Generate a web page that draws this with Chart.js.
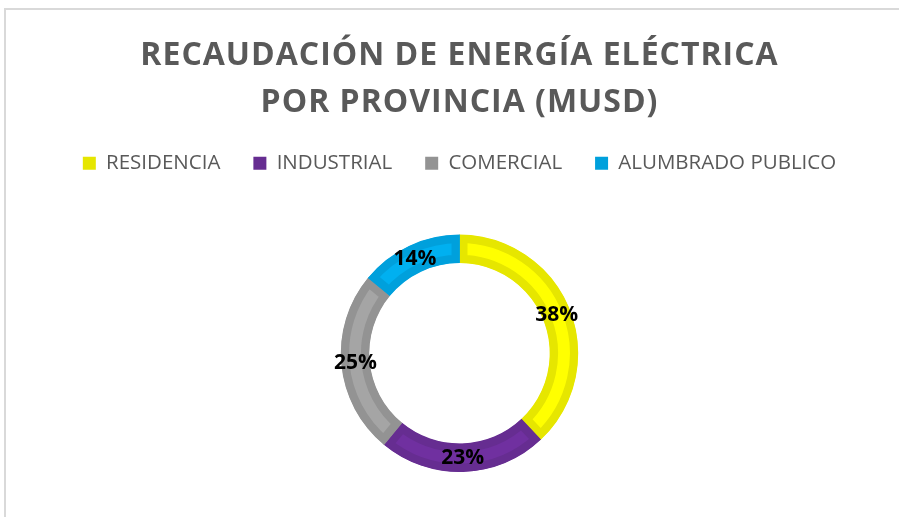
<!DOCTYPE html>
<html>
<head>
<meta charset="utf-8">
<script src="https://cdn.jsdelivr.net/npm/chart.js@4"></script>
<style>
  html, body { margin: 0; padding: 0; background: #fff; overflow: hidden; }
  #frame {
    position: absolute; left: 4px; top: 8px; width: 910px; height: 530px;
    border-left: 2px solid #d9d9d9; border-top: 2px solid #d9d9d9;
  }
  #wrap { position: absolute; left: 0; top: 0; width: 899px; height: 517px; }
</style>
</head>
<body>
<div id="frame"></div>
<div id="wrap"><canvas id="chart"></canvas></div>
<script>
// ── data ────────────────────────────────────────────────────────────────
const categories = ['RESIDENCIA', 'INDUSTRIAL', 'COMERCIAL', 'ALUMBRADO PUBLICO'];
const shares = [38, 23, 25, 14];
const titleLines = ['RECAUDACIÓN DE ENERGÍA ELÉCTRICA', 'POR PROVINCIA (MUSD)'];

// fill = lighter middle stripe, edge = darker bevel
const fillColors = ['#FFFF00', '#7030A0', '#A5A5A5', '#00B0F0'];
const edgeColors = ['#E6E600', '#662D91', '#939393', '#00A0DC'];

const TEXT = '#595959';

// push the doughnut down below the legend, widen title tracking
const layoutTweaks = {
  id: 'layoutTweaks',
  beforeInit(chart) {
    const fit = chart.legend.fit;
    chart.legend.fit = function () {
      fit.call(this);
      this.height += 51;
    };
    const draw = chart.titleBlock.draw;
    chart.titleBlock.draw = function () {
      const ctx = this.ctx;
      ctx.save();
      ctx.letterSpacing = '1px';
      draw.call(this);
      ctx.restore();
    };
  },
};

// percentage labels on each slice
const sliceLabels = {
  id: 'sliceLabels',
  afterDatasetsDraw(chart) {
    const { ctx } = chart;
    const meta = chart.getDatasetMeta(0);
    ctx.save();
    ctx.font = 'bold 21px "Open Sans"';
    ctx.fillStyle = '#000';
    ctx.textAlign = 'center';
    ctx.textBaseline = 'middle';
    meta.data.forEach((arc, i) => {
      const p = arc.tooltipPosition();
      ctx.fillText(shares[i] + '%', p.x, p.y);
    });
    ctx.restore();
  },
};

new Chart(document.getElementById('chart'), {
  type: 'doughnut',
  data: {
    labels: categories,
    datasets: [{
      data: shares,
      backgroundColor: fillColors,
      borderColor: edgeColors,
      borderWidth: 8,
      borderAlign: 'inner',
    }],
  },
  options: {
    responsive: true,
    maintainAspectRatio: false,
    animation: false,
    cutout: '76%',
    layout: { padding: { left: 20, right: 0, top: 0, bottom: 45 } },
    plugins: {
      tooltip: { enabled: false },
      title: {
        display: true,
        text: titleLines,
        color: TEXT,
        font: { family: '"Open Sans"', size: 32, weight: 'bold', lineHeight: 1.47 },
        padding: { top: 32, bottom: -6 },
      },
      legend: {
        position: 'top',
        labels: {
          color: TEXT,
          font: { family: '"Open Sans"', size: 20.5 },
          boxWidth: 13,
          boxHeight: 13,
          padding: 33,
          generateLabels: (chart) => categories.map((c, i) => ({
            text: c,
            fillStyle: edgeColors[i],
            strokeStyle: edgeColors[i],
            lineWidth: 0,
            fontColor: TEXT,
            index: i,
          })),
        },
      },
    },
  },
  plugins: [layoutTweaks, sliceLabels],
});
</script>
</body>
</html>
